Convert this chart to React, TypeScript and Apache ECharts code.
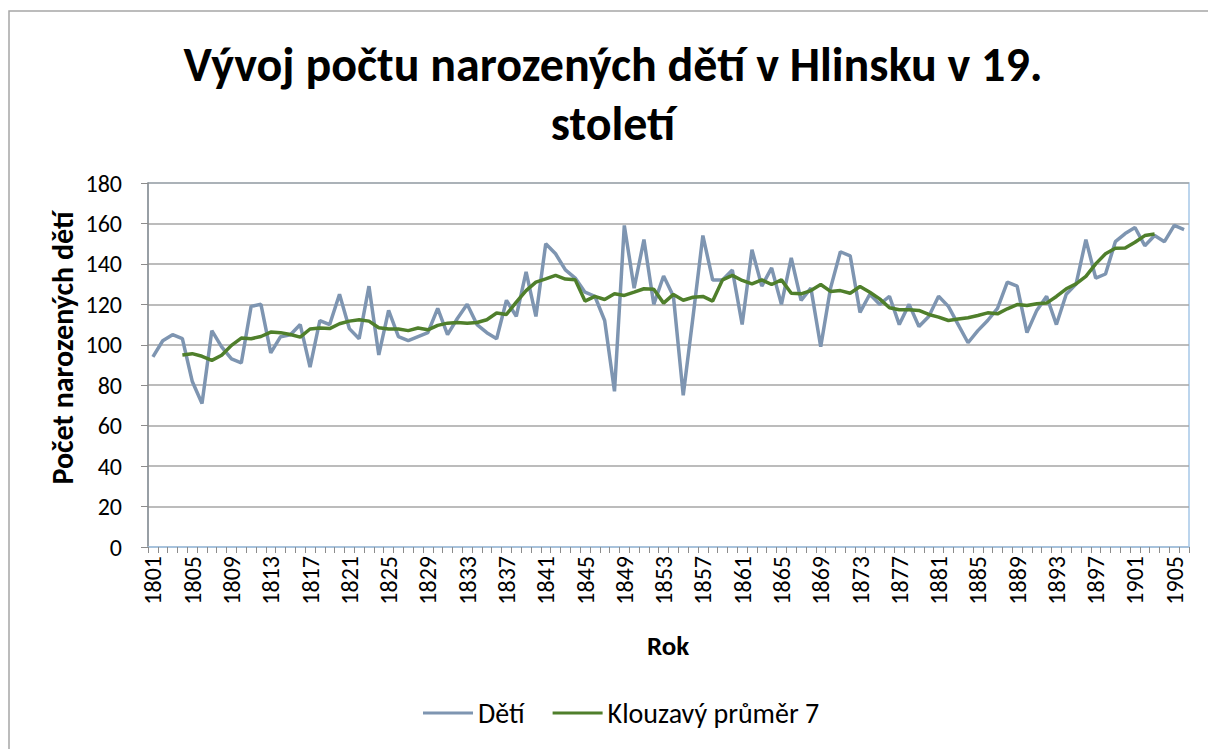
import React, { useEffect, useRef } from "react";
import * as echarts from "echarts";

const years: string[] = [];
for (let y = 1801; y <= 1906; y++) years.push(String(y));

const births: number[] = [
  94, 102, 105, 103, 82, 71, 107, 99, 93, 91,
  119, 120, 96, 104, 105, 110, 89, 112, 110, 125,
  108, 103, 129, 95, 117, 104, 102, 104, 106, 118,
  105, 113, 120, 110, 106, 103, 122, 114, 136, 114,
  150, 145, 137, 133, 126, 124, 112, 77, 159, 128,
  152, 120, 134, 124, 75, 114, 154, 132, 132, 137,
  110, 147, 129, 138, 120, 143, 122, 128, 99, 128,
  146, 144, 116, 125, 120, 124, 110, 120, 109, 114,
  124, 119, 110, 101, 107, 112, 118, 131, 129, 106,
  117, 124, 110, 125, 130, 152, 133, 135, 151, 155,
  158, 149, 154, 151, 159, 157,
];

const movingAvg: (number | null)[] = [
  null, null, null,
  95, 95.6, 94.3, 92.3, 94.8, 99.7, 103.3, 103, 104.1, 106.3,
  106, 105.1, 103.8, 107.8, 108.3, 108, 110.4, 111.7, 112.4, 111.7,
  108.4, 107.8, 107.8, 107, 108.3, 107.4, 109.6, 110.7, 111, 110.7,
  111, 112.4, 115.7, 115, 121.1, 126.8, 131, 132.6, 134.3, 132.5,
  132.1, 121.6, 123.9, 122.4, 125.2, 124.4, 126, 127.7, 127.5, 120.6,
  124.9, 122, 123.5, 123.9, 121.6, 132.1, 134.3, 131.8, 130.1, 132.1,
  129.8, 132.1, 125.5, 125.2, 126.8, 129.8, 126.4, 126.8, 125.5, 128.8,
  126, 122.7, 118.3, 117.3, 117.3, 117, 115, 113.7, 112, 112.7,
  113.4, 114.5, 115.8, 115.3, 117.8, 119.9, 119.4, 120.3, 120.6, 123.9,
  127.7, 130.1, 133.8, 140, 145, 147.7, 147.9, 150.7, 154, 154.8,
  null, null, null,
];

const titleLines = ["Vývoj počtu narozených dětí v Hlinsku v 19.", "století"];
const yAxisTitle = "Počet narozených dětí";
const xAxisTitle = "Rok";
const seriesNames = ["Dětí", "Klouzavý průměr 7"];

const FONT = "Carlito, Calibri, Lato, sans-serif";

export default function App() {
  const ref = useRef<HTMLDivElement>(null);
  useEffect(() => {
    if (!ref.current) return;
    const chart = echarts.init(ref.current, undefined, { renderer: "svg" });
    chart.setOption({
      animation: false,
      textStyle: { fontFamily: FONT },
      grid: {
        left: 148,
        right: 19,
        top: 183,
        bottom: 202,
        show: true,
        borderColor: "#A7C7E7",
        borderWidth: 1.5,
      },
      legend: {
        bottom: 17,
        left: 418,
        itemWidth: 50,
        itemHeight: 3,
        itemGap: 28,
        icon: "rect",
        textStyle: { fontSize: 28, color: "#000", fontFamily: FONT },
        data: seriesNames,
      },
      xAxis: {
        type: "category",
        data: years,
        boundaryGap: true,
        axisLine: { show: true, lineStyle: { color: "#A7C7E7", width: 1.5 } },
        axisTick: {
          show: true,
          interval: 0,
          length: 6,
          lineStyle: { color: "#8C8C8C" },
        },
        axisLabel: {
          interval: 3,
          rotate: 90,
          fontSize: 24,
          color: "#000",
          margin: 9,
          fontFamily: FONT,
        },
        splitLine: { show: false },
      },
      yAxis: {
        type: "value",
        min: 0,
        max: 180,
        interval: 20,
        axisLine: { show: true, lineStyle: { color: "#8C8C8C", width: 1.5 } },
        axisTick: { show: true, length: 7, lineStyle: { color: "#8C8C8C" } },
        axisLabel: { fontSize: 24, color: "#000", margin: 26, fontFamily: FONT },
        splitLine: { show: true, lineStyle: { color: "#A6A6A6", width: 1.5 } },
      },
      graphic: [
        {
          type: "rect",
          shape: { x: 9, y: 11, width: 1300, height: 900 },
          style: { fill: "none", stroke: "#A6A6A6", lineWidth: 1.5 },
          silent: true,
          z: -10,
        },
        {
          type: "text",
          x: 613,
          y: 64,
          style: {
            text: titleLines[0],
            font: `bold 48px ${FONT}`,
            fill: "#000",
            textAlign: "center",
            textVerticalAlign: "middle",
          },
        },
        {
          type: "text",
          x: 613,
          y: 123,
          style: {
            text: titleLines[1],
            font: `bold 48px ${FONT}`,
            fill: "#000",
            textAlign: "center",
            textVerticalAlign: "middle",
          },
        },
        {
          type: "text",
          x: 62,
          y: 348,
          rotation: Math.PI / 2,
          style: {
            text: yAxisTitle,
            font: `bold 30px ${FONT}`,
            fill: "#000",
            textAlign: "center",
            textVerticalAlign: "middle",
          },
        },
        {
          type: "text",
          x: 668,
          y: 645,
          style: {
            text: xAxisTitle,
            font: `bold 27px ${FONT}`,
            fill: "#000",
            textAlign: "center",
            textVerticalAlign: "middle",
          },
        },
      ],
      series: [
        {
          name: seriesNames[0],
          type: "line",
          data: births,
          symbol: "none",
          lineStyle: { color: "#7E95B1", width: 3.5 },
          itemStyle: { color: "#7E95B1" },
          z: 2,
        },
        {
          name: seriesNames[1],
          type: "line",
          data: movingAvg,
          symbol: "none",
          connectNulls: false,
          lineStyle: { color: "#4F7F2B", width: 3.5 },
          itemStyle: { color: "#4F7F2B" },
          z: 3,
        },
      ],
    });
    return () => chart.dispose();
  }, []);
  return (
    <div
      ref={ref}
      style={{ position: "absolute", left: 0, top: 0, width: 1208, height: 749, background: "#fff" }}
    />
  );
}
